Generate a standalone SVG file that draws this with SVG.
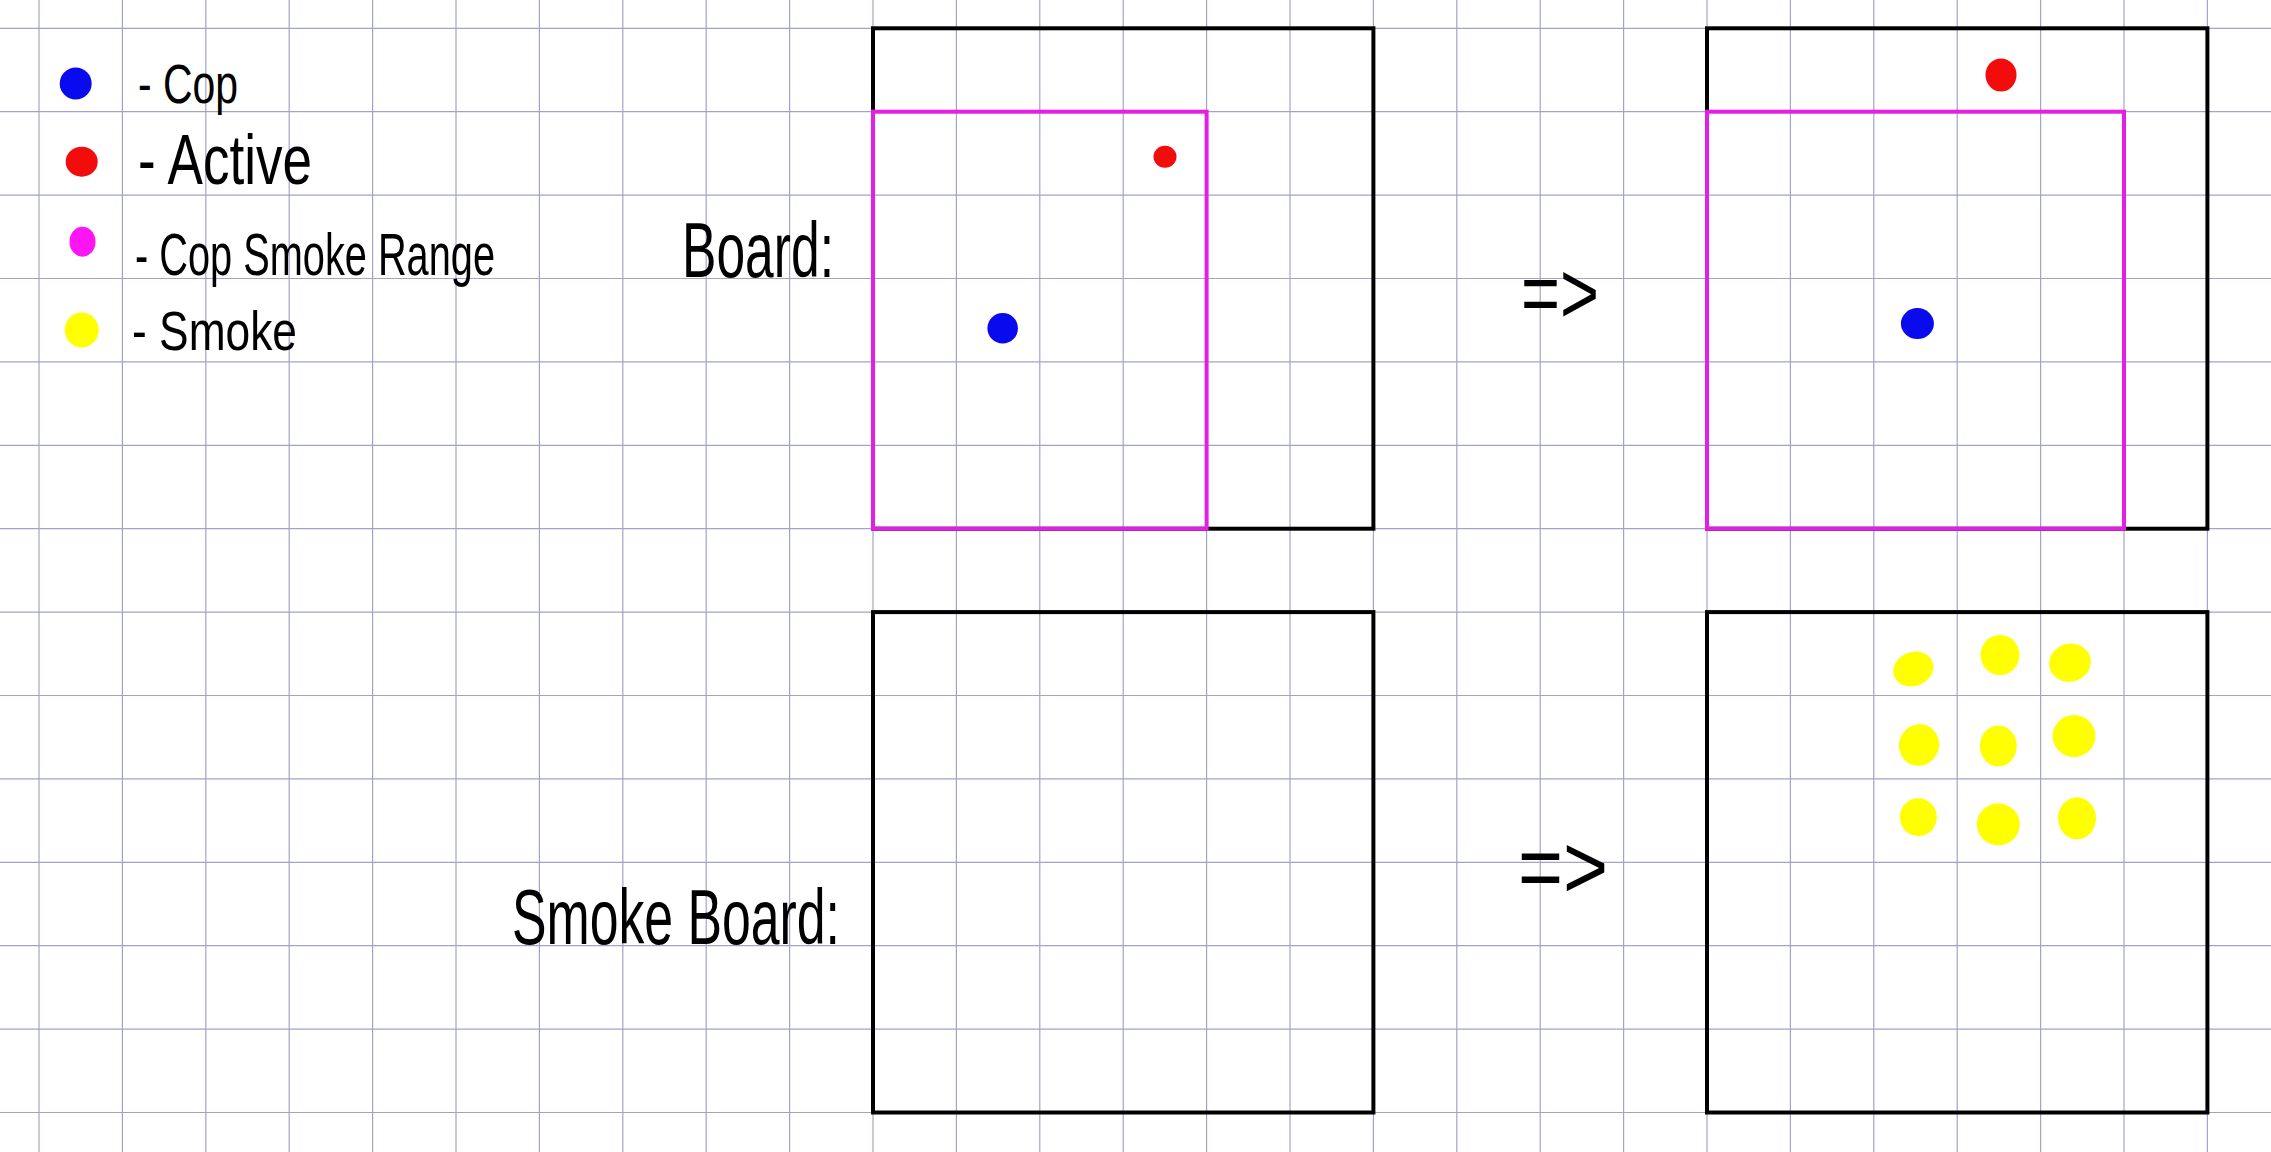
<svg xmlns="http://www.w3.org/2000/svg" width="2271" height="1152" viewBox="0 0 2271 1152">
<defs>
<style>
.grid line{stroke:#a3a3c9;stroke-width:1.2}
.board{fill:none;stroke:#000;stroke-width:4}
.range{fill:none;stroke:#e41ee4;stroke-width:4}
.hw{font-family:"Liberation Sans",Arial,sans-serif;fill:#000}
.cop{fill:#0a0aef}
.active{fill:#f20c0c}
.rng{fill:#ff14f5}
.smoke{fill:#ffff00}
</style>
</defs>
<rect x="0" y="0" width="2271" height="1152" fill="#ffffff"/>
<g class="grid" id="grid">
<line x1="39" y1="0" x2="39" y2="1152"/>
<line x1="122.4" y1="0" x2="122.4" y2="1152"/>
<line x1="205.8" y1="0" x2="205.8" y2="1152"/>
<line x1="289.2" y1="0" x2="289.2" y2="1152"/>
<line x1="372.6" y1="0" x2="372.6" y2="1152"/>
<line x1="456" y1="0" x2="456" y2="1152"/>
<line x1="539.4" y1="0" x2="539.4" y2="1152"/>
<line x1="622.8" y1="0" x2="622.8" y2="1152"/>
<line x1="706.2" y1="0" x2="706.2" y2="1152"/>
<line x1="789.6" y1="0" x2="789.6" y2="1152"/>
<line x1="873" y1="0" x2="873" y2="1152"/>
<line x1="956.4" y1="0" x2="956.4" y2="1152"/>
<line x1="1039.8" y1="0" x2="1039.8" y2="1152"/>
<line x1="1123.2" y1="0" x2="1123.2" y2="1152"/>
<line x1="1206.6" y1="0" x2="1206.6" y2="1152"/>
<line x1="1290" y1="0" x2="1290" y2="1152"/>
<line x1="1373.4" y1="0" x2="1373.4" y2="1152"/>
<line x1="1456.8" y1="0" x2="1456.8" y2="1152"/>
<line x1="1540.2" y1="0" x2="1540.2" y2="1152"/>
<line x1="1623.6" y1="0" x2="1623.6" y2="1152"/>
<line x1="1707" y1="0" x2="1707" y2="1152"/>
<line x1="1790.4" y1="0" x2="1790.4" y2="1152"/>
<line x1="1873.8" y1="0" x2="1873.8" y2="1152"/>
<line x1="1957.2" y1="0" x2="1957.2" y2="1152"/>
<line x1="2040.6" y1="0" x2="2040.6" y2="1152"/>
<line x1="2124" y1="0" x2="2124" y2="1152"/>
<line x1="2207.4" y1="0" x2="2207.4" y2="1152"/>
<line x1="0" y1="28.3" x2="2271" y2="28.3"/>
<line x1="0" y1="111.7" x2="2271" y2="111.7"/>
<line x1="0" y1="195.1" x2="2271" y2="195.1"/>
<line x1="0" y1="278.5" x2="2271" y2="278.5"/>
<line x1="0" y1="361.9" x2="2271" y2="361.9"/>
<line x1="0" y1="445.3" x2="2271" y2="445.3"/>
<line x1="0" y1="528.7" x2="2271" y2="528.7"/>
<line x1="0" y1="612.1" x2="2271" y2="612.1"/>
<line x1="0" y1="695.5" x2="2271" y2="695.5"/>
<line x1="0" y1="778.9" x2="2271" y2="778.9"/>
<line x1="0" y1="862.3" x2="2271" y2="862.3"/>
<line x1="0" y1="945.7" x2="2271" y2="945.7"/>
<line x1="0" y1="1029.1" x2="2271" y2="1029.1"/>
<line x1="0" y1="1112.5" x2="2271" y2="1112.5"/>
</g>
<g id="legend">
<g id="legend-cop">
<circle class="cop" cx="75.7" cy="83.5" r="16"/>
<text class="hw" x="138" y="103" font-size="56" textLength="100" lengthAdjust="spacingAndGlyphs">- Cop</text>
</g>
<g id="legend-active">
<ellipse class="active" cx="81.7" cy="161.7" rx="16" ry="15"/>
<text class="hw" x="138" y="184" font-size="70" textLength="174" lengthAdjust="spacingAndGlyphs">- Active</text>
</g>
<g id="legend-range">
<ellipse class="rng" cx="82.5" cy="241.7" rx="13" ry="15"/>
<text class="hw" x="135" y="275" font-size="60" textLength="360" lengthAdjust="spacingAndGlyphs">- Cop Smoke Range</text>
</g>
<g id="legend-smoke">
<ellipse class="smoke" cx="81.7" cy="330" rx="17" ry="17.5"/>
<text class="hw" x="132" y="350" font-size="56" textLength="165" lengthAdjust="spacingAndGlyphs">- Smoke</text>
</g>
</g>
<g id="label-board">
<text class="hw" x="682" y="277" font-size="78" textLength="152" lengthAdjust="spacingAndGlyphs">Board:</text>
</g>
<g id="label-smoke-board">
<text class="hw" x="512" y="944" font-size="78" textLength="328" lengthAdjust="spacingAndGlyphs">Smoke Board:</text>
</g>
<g id="board-before">
<rect class="board" x="873" y="28.3" width="500.4" height="500.4"/>
<rect class="range" x="873" y="111.7" width="333.6" height="417"/>
<ellipse class="active" cx="1165" cy="156.7" rx="11.5" ry="11"/>
<circle class="cop" cx="1002.7" cy="328.3" r="15.3"/>
</g>
<g id="board-after">
<rect class="board" x="1707" y="28.3" width="500.4" height="500.4"/>
<rect class="range" x="1707" y="111.7" width="417" height="417"/>
<ellipse class="active" cx="2001" cy="75" rx="15.5" ry="16.5"/>
<ellipse class="cop" cx="1917.4" cy="323.6" rx="16.5" ry="15.5"/>
</g>
<g id="smoke-board-before">
<rect class="board" x="873" y="612.1" width="500.4" height="500.4"/>
</g>
<g id="smoke-board-after">
<rect class="board" x="1707" y="612.1" width="500.4" height="500.4"/>
<ellipse class="smoke" cx="1913.3" cy="669" rx="20.5" ry="17" transform="rotate(-20 1913.3 669)"/>
<ellipse class="smoke" cx="2000" cy="655" rx="19.5" ry="20"/>
<ellipse class="smoke" cx="2070" cy="662.7" rx="21" ry="19" transform="rotate(-15 2070 662.7)"/>
<ellipse class="smoke" cx="1919" cy="745" rx="20" ry="21" transform="rotate(20 1919 745)"/>
<ellipse class="smoke" cx="1998.3" cy="746" rx="18.5" ry="20.5"/>
<ellipse class="smoke" cx="2074" cy="736" rx="21.5" ry="21"/>
<ellipse class="smoke" cx="1918.3" cy="817.3" rx="18.5" ry="19"/>
<ellipse class="smoke" cx="1998.3" cy="824.3" rx="21.5" ry="21"/>
<ellipse class="smoke" cx="2077" cy="818.3" rx="19" ry="21"/>
</g>
<g id="connectors">
<text class="hw" x="1521" y="323" font-size="88" textLength="78" lengthAdjust="spacingAndGlyphs">=&gt;</text>
<text class="hw" x="1518" y="898" font-size="90" textLength="90" lengthAdjust="spacingAndGlyphs">=&gt;</text>
</g>
</svg>
